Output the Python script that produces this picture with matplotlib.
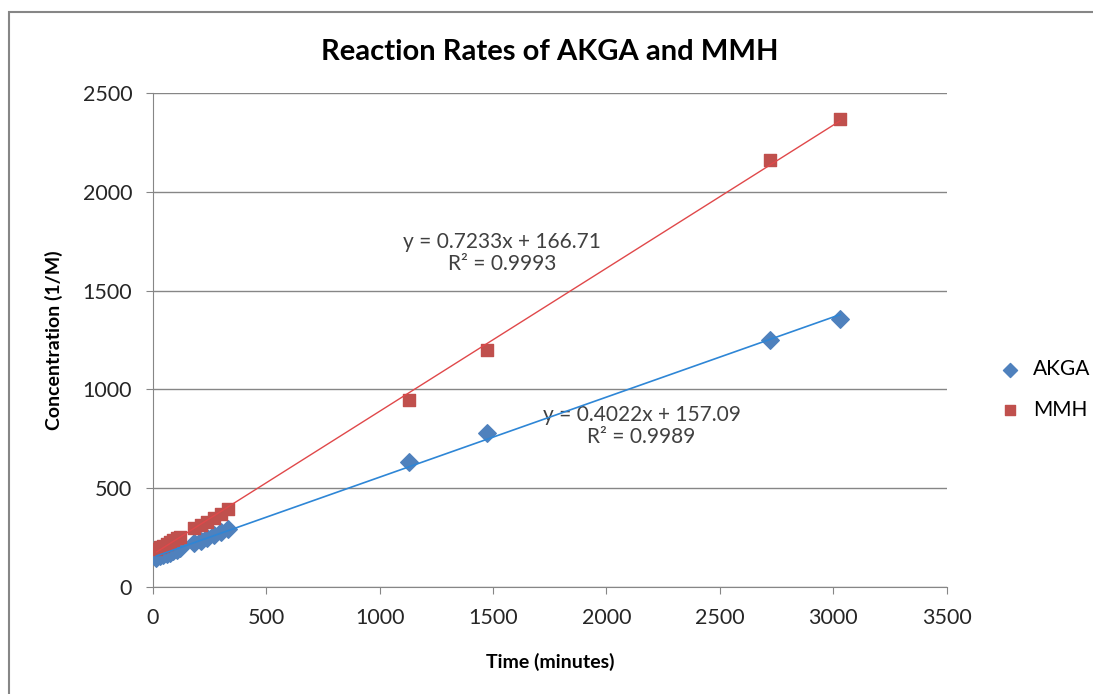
import numpy as np
import matplotlib.pyplot as plt
from matplotlib.patches import Rectangle

# Data
time = [15, 30, 45, 60, 75, 90, 105, 120, 180, 210, 240, 270, 300, 330,
        1130, 1475, 2720, 3030]
akga = [145, 155, 160, 170, 175, 185, 190, 200, 225, 235, 250, 265, 280, 295,
        635, 780, 1250, 1355]
mmh = [195, 205, 210, 220, 230, 240, 250, 255, 300, 315, 330, 350, 370, 395,
       945, 1200, 2160, 2370]

akga_eq = "y = 0.4022x + 157.09\nR² = 0.9989"
mmh_eq = "y = 0.7233x + 166.71\nR² = 0.9993"

plt.rcParams['font.family'] = ['Lato', 'DejaVu Sans']

fig = plt.figure(figsize=(10.93, 6.94), dpi=100)
ax = fig.add_axes([0.14, 0.154, 0.726, 0.712])

# Outer chart border
fig.patches.append(Rectangle((0.008, -0.05), 1.1, 1.033, transform=fig.transFigure,
                             fill=False, edgecolor='#868686', linewidth=1.5))

blue = '#4F81BD'
red = '#C0504D'

ax.scatter(time, akga, marker='D', s=80, color=blue, label='AKGA', zorder=3)
ax.scatter(time, mmh, marker='s', s=85, color=red, label='MMH', zorder=3)

# Linear trendlines
x = np.array(time, dtype=float)
xs = np.linspace(x.min(), x.max(), 2)
pa = np.polyfit(x, akga, 1)
pm = np.polyfit(x, mmh, 1)
ax.plot(xs, np.polyval(pa, xs), color='#2E86D6', linewidth=1.2, zorder=4)
ax.plot(xs, np.polyval(pm, xs), color='#E0484A', linewidth=1.0, zorder=4)

ax.text(1538, 1690, mmh_eq, ha='center', va='center', fontsize=15,
        color='#404040', linespacing=1.1)
ax.text(2155, 815, akga_eq, ha='center', va='center', fontsize=15,
        color='#404040', linespacing=1.1)

ax.set_xlim(0, 3500)
ax.set_ylim(0, 2500)
ax.set_xticks(np.arange(0, 3501, 500))
ax.set_yticks(np.arange(0, 2501, 500))
ax.yaxis.grid(True, color='#868686', linewidth=1)
ax.set_axisbelow(True)
for s in ['top', 'right']:
    ax.spines[s].set_visible(False)
for s in ['left', 'bottom']:
    ax.spines[s].set_color('#868686')
ax.tick_params(colors='#868686', labelcolor='#262626', labelsize=15.5,
               direction='out', length=5, pad=10)

ax.set_title('Reaction Rates of AKGA and MMH', fontsize=21, fontweight='bold',
             pad=24)
ax.set_xlabel('Time (minutes)', fontsize=14, fontweight='bold', labelpad=18)
ax.set_ylabel('Concentration (1/M)', fontsize=14, fontweight='bold', labelpad=14)

ax.legend(loc='center left', bbox_to_anchor=(1.03, 0.40), frameon=False,
          fontsize=15, handletextpad=0.1, labelspacing=1.0, markerscale=0.8)

fig.savefig('out.png', dpi=100)
